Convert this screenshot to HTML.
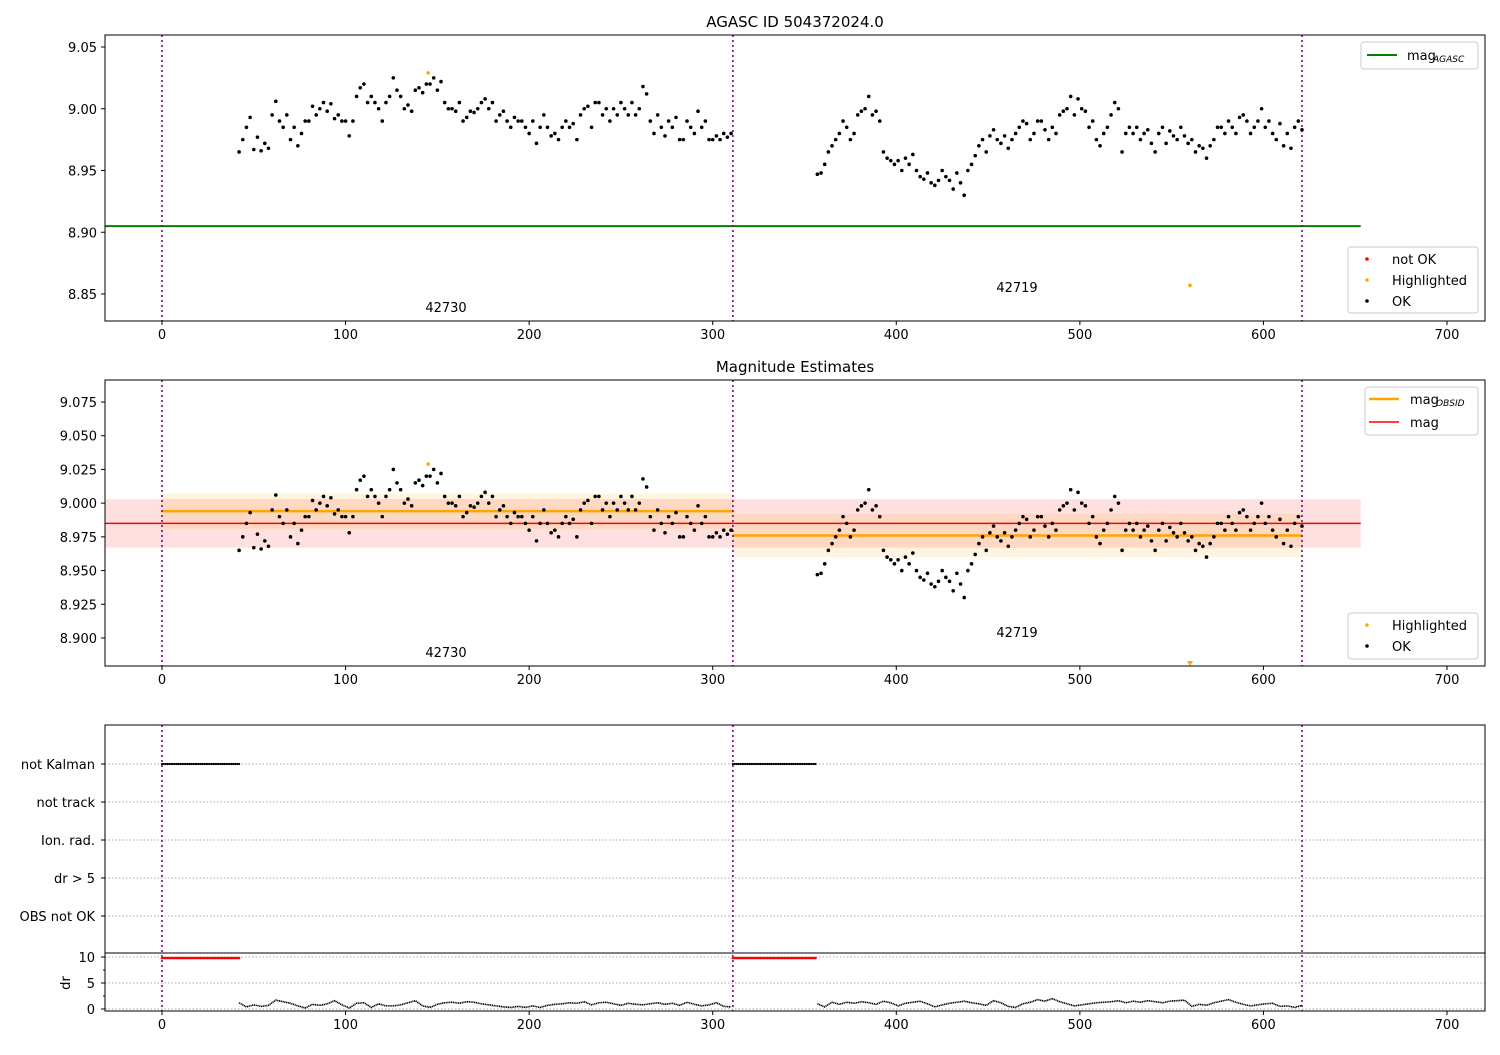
<!DOCTYPE html>
<html><head><meta charset="utf-8"><style>
body{margin:0;background:#fff}
svg text{font-family:"DejaVu Sans","Liberation Sans",sans-serif;fill:#000}
</style></head><body>
<svg id="c" width="1500" height="1050" xmlns="http://www.w3.org/2000/svg"></svg>
<script>
const obsidLabels=["42730","42719"];
const obsidStarts=[0,311];
const obsidEnds=[311,621];
const obsidMeans=[8.994,8.976];
const obsidStd=[0.013,0.016];
const magMean=8.985, magStd=0.018, magAgasc=8.905;
const t1Start=42, t1Step=2;
const mag1=[8.965,8.975,8.985,8.993,8.967,8.977,8.966,8.972,8.968,8.995,9.006,8.99,8.985,8.995,8.975,8.985,8.97,8.98,8.99,8.99,9.002,8.995,9.0,9.005,8.998,9.004,8.992,8.995,8.99,8.99,8.978,8.99,9.01,9.017,9.02,9.005,9.01,9.005,9.0,8.99,9.005,9.01,9.025,9.015,9.01,9.0,9.003,8.998,9.015,9.017,9.013,9.02,9.02,9.025,9.015,9.022,9.005,9.0,9.0,8.998,9.005,8.99,8.993,8.998,8.997,9.0,9.005,9.008,9.0,9.005,8.99,8.995,8.998,8.99,8.985,8.993,8.99,8.99,8.985,8.98,8.99,8.972,8.985,8.995,8.985,8.978,8.98,8.975,8.985,8.99,8.985,8.988,8.975,8.995,9.0,9.002,8.985,9.005,9.005,8.995,9.0,8.99,9.0,8.995,9.005,9.0,8.995,9.005,8.995,9.0,9.018,9.012,8.99,8.98,8.995,8.985,8.978,8.99,8.985,8.993,8.975,8.975,8.99,8.985,8.98,8.998,8.985,8.99,8.975,8.975,8.978,8.975,8.98,8.977,8.98];
const t2Start=357, t2Step=2;
const mag2=[8.947,8.948,8.955,8.965,8.97,8.975,8.98,8.99,8.985,8.975,8.98,8.995,8.998,9.0,9.01,8.995,8.998,8.99,8.965,8.96,8.958,8.955,8.958,8.95,8.96,8.955,8.963,8.95,8.945,8.943,8.948,8.94,8.938,8.942,8.95,8.945,8.942,8.935,8.948,8.94,8.93,8.95,8.955,8.962,8.97,8.975,8.965,8.978,8.983,8.975,8.972,8.978,8.968,8.975,8.98,8.985,8.99,8.988,8.975,8.98,8.99,8.99,8.983,8.975,8.985,8.98,8.995,8.998,9.0,9.01,8.995,9.008,9.0,8.998,8.985,8.99,8.975,8.97,8.98,8.985,8.995,9.005,9.0,8.965,8.98,8.985,8.98,8.985,8.975,8.98,8.983,8.972,8.965,8.98,8.985,8.972,8.982,8.978,8.975,8.985,8.978,8.972,8.975,8.965,8.97,8.968,8.96,8.97,8.975,8.985,8.985,8.98,8.99,8.985,8.98,8.993,8.995,8.99,8.98,8.985,8.99,9.0,8.985,8.99,8.98,8.975,8.988,8.97,8.98,8.968,8.985,8.99,8.983];
const hiT=[145,560], hiMag=[9.029,8.857];
const notKalmanStart=[0,311], notKalmanEnd=[42,356];
const drStep=4;
const dr1=[1.2,0.4,0.8,0.5,0.7,1.7,1.4,1.1,0.6,0.2,0.9,0.7,1.0,1.6,0.8,0.2,1.1,1.2,0.3,1.0,0.6,0.6,0.8,1.2,1.6,0.6,0.3,0.9,1.2,1.3,1.1,1.4,1.3,1.0,0.8,0.6,0.4,0.3,0.5,0.3,0.6,0.3,0.7,0.9,1.0,1.2,1.1,1.4,0.8,1.2,1.3,1.0,0.7,1.1,0.9,0.8,1.0,1.2,0.9,1.1,0.7,1.3,0.9,0.6,0.8,1.2,0.5,0.4];
const dr2=[1.0,0.4,1.3,0.9,1.3,1.1,1.4,1.2,0.9,1.5,1.2,0.6,1.1,1.3,1.5,1.0,0.4,0.8,1.1,1.3,1.5,1.2,1.0,0.7,1.6,1.2,0.5,0.3,1.0,1.3,1.8,1.5,2.0,1.4,1.0,0.6,0.8,1.0,1.2,1.3,1.4,1.6,1.2,1.5,1.3,1.6,1.4,1.2,1.5,1.6,1.7,0.5,0.9,0.7,1.2,1.5,1.8,1.3,0.9,0.6,0.8,1.0,1.1,0.5,0.6,0.3,0.7];
const xTicks=[0,100,200,300,400,500,600,700];
const y1Ticks=[8.85,8.90,8.95,9.00,9.05];
const y2Ticks=[8.900,8.925,8.950,8.975,9.000,9.025,9.050,9.075];
const flagLabels=["not Kalman","not track","Ion. rad.","dr > 5","OBS not OK"];
const drTicks=[0,5,10];

const svg=document.getElementById('c');
const NS="http://www.w3.org/2000/svg";
function mk(tag,attrs,parent,text){const e=document.createElementNS(NS,tag);for(const k in attrs)e.setAttribute(k,attrs[k]);if(text!==undefined)e.textContent=text;(parent||svg).appendChild(e);return e;}
const L=105,R=1485;
const X=t=>162+t*(1447-162)/700;
const Y1=m=>47+(9.05-m)*1235;
const Y2=m=>402+(9.075-m)*(638-402)/0.175;
const YD=d=>1009-d*5.2;
const yF=i=>764+i*38;

function frame(top,bot,name){
  const g=mk('g',{},svg);
  
  
  return g;
}
function border(top,bot,g){mk('rect',{x:L,y:top,width:R-L,height:bot-top,fill:'none',stroke:'#000','stroke-width':1},g);}
function xaxis(bot,g,labels){
  xTicks.forEach(t=>{mk('line',{x1:X(t),x2:X(t),y1:bot,y2:bot+4,stroke:'#000'},g);
    if(labels){const e=mk('text',{x:X(t),y:bot+18,'text-anchor':'middle','font-size':13},g,String(t));}});
}
function vlines(top,bot,g){obsidStarts.concat([621]).forEach(t=>mk('line',{x1:X(t),x2:X(t),y1:top,y2:bot,stroke:'#800080','stroke-width':1.6,'stroke-dasharray':'2,3'},g));}
function dots(ts,ms,Yf,g,color,r){ts.forEach((t,i)=>{const c=mk('circle',{cx:X(t),cy:Yf(ms[i]),r:r||1.8,fill:color},g);});}
function seriesT(start,step,arr){return arr.map((_,i)=>start+i*step);}
const T1=seriesT(t1Start,t1Step,mag1),T2=seriesT(t2Start,t2Step,mag2);

// Panel 1
let g1=frame(35,321,'agasc-panel');
mk('text',{x:795,y:27,'text-anchor':'middle','font-size':15},g1,'AGASC ID 504372024.0');
mk('line',{x1:L,x2:X(653),y1:Y1(magAgasc),y2:Y1(magAgasc),stroke:'#008000','stroke-width':2},g1);
vlines(35,321,g1);
dots(T1,mag1,Y1,g1,'#000');dots(T2,mag2,Y1,g1,'#000');
dots(hiT,hiMag,Y1,g1,'orange');
mk('text',{x:446,y:312,'text-anchor':'middle','font-size':13},g1,obsidLabels[0]);
mk('text',{x:1017,y:292,'text-anchor':'middle','font-size':13},g1,obsidLabels[1]);
y1Ticks.forEach(v=>{mk('line',{x1:L-4,x2:L,y1:Y1(v),y2:Y1(v),stroke:'#000'},g1);mk('text',{x:L-8,y:Y1(v)+5,'text-anchor':'end','font-size':13},g1,v.toFixed(2));});
border(35,321,g1);xaxis(321,g1,true);
// legends
let lg=mk('g',{},g1);
mk('rect',{x:1361,y:42,width:117,height:27,rx:3,fill:'#fff',stroke:'#ccc'},lg);
mk('line',{x1:1367,x2:1397,y1:55,y2:55,stroke:'#008000','stroke-width':2},lg);
mk('text',{x:1407,y:60,'font-size':13},lg,'mag');mk('text',{x:1433,y:62,'font-size':9,'font-style':'italic'},lg,'AGASC');
let lg2=mk('g',{},g1);
mk('rect',{x:1348,y:247,width:130,height:66,rx:3,fill:'#fff',stroke:'#ccc'},lg2);
[['not OK','red',259],['Highlighted','orange',280],['OK','#000',301]].forEach(a=>{mk('circle',{cx:1367,cy:a[2],r:1.8,fill:a[1]},lg2);mk('text',{x:1392,y:a[2]+5,'font-size':13},lg2,a[0]);});

// Panel 2
let g2=frame(380,666,'magnitude-panel');
mk('text',{x:795,y:372,'text-anchor':'middle','font-size':15},g2,'Magnitude Estimates');
mk('rect',{x:L,y:Y2(magMean+magStd),width:X(653)-L,height:Y2(magMean-magStd)-Y2(magMean+magStd),fill:'red','fill-opacity':0.12},g2);
obsidStarts.forEach((s,i)=>{mk('rect',{x:X(s),y:Y2(obsidMeans[i]+obsidStd[i]),width:X(obsidEnds[i])-X(s),height:Y2(obsidMeans[i]-obsidStd[i])-Y2(obsidMeans[i]+obsidStd[i]),fill:'orange','fill-opacity':0.12},g2);});
mk('line',{x1:L,x2:X(653),y1:Y2(magMean),y2:Y2(magMean),stroke:'red','stroke-width':1.6},g2);
obsidStarts.forEach((s,i)=>mk('line',{x1:X(s),x2:X(obsidEnds[i]),y1:Y2(obsidMeans[i]),y2:Y2(obsidMeans[i]),stroke:'orange','stroke-width':2.4},g2));
vlines(380,666,g2);
dots(T1,mag1,Y2,g2,'#000');dots(T2,mag2,Y2,g2,'#000');
dots([hiT[0]],[hiMag[0]],Y2,g2,'orange');
mk('polygon',{points:`${X(hiT[1])-3},661 ${X(hiT[1])+3},661 ${X(hiT[1])},666`,fill:'orange'},g2);
mk('text',{x:446,y:657,'text-anchor':'middle','font-size':13},g2,obsidLabels[0]);
mk('text',{x:1017,y:637,'text-anchor':'middle','font-size':13},g2,obsidLabels[1]);
y2Ticks.forEach(v=>{mk('line',{x1:L-4,x2:L,y1:Y2(v),y2:Y2(v),stroke:'#000'},g2);mk('text',{x:L-8,y:Y2(v)+5,'text-anchor':'end','font-size':13},g2,v.toFixed(3));});
border(380,666,g2);xaxis(666,g2,true);
let lg3=mk('g',{},g2);
mk('rect',{x:1365,y:387,width:113,height:48,rx:3,fill:'#fff',stroke:'#ccc'},lg3);
mk('line',{x1:1369,x2:1399,y1:399,y2:399,stroke:'orange','stroke-width':2.4},lg3);
mk('text',{x:1410,y:404,'font-size':13},lg3,'mag');mk('text',{x:1436,y:406,'font-size':9,'font-style':'italic'},lg3,'OBSID');
mk('line',{x1:1369,x2:1399,y1:422,y2:422,stroke:'red','stroke-width':1.6},lg3);
mk('text',{x:1410,y:427,'font-size':13},lg3,'mag');
let lg4=mk('g',{},g2);
mk('rect',{x:1348,y:613,width:130,height:46,rx:3,fill:'#fff',stroke:'#ccc'},lg4);
[['Highlighted','orange',625],['OK','#000',646]].forEach(a=>{mk('circle',{cx:1367,cy:a[2],r:1.8,fill:a[1]},lg4);mk('text',{x:1392,y:a[2]+5,'font-size':13},lg4,a[0]);});

// Panel 3 flags
let g3=frame(725,953,'flags-panel');
flagLabels.forEach((f,i)=>{mk('line',{x1:L,x2:R,y1:yF(i),y2:yF(i),stroke:'#aaa','stroke-dasharray':'1.5,2'},g3);mk('line',{x1:L-4,x2:L,y1:yF(i),y2:yF(i),stroke:'#000'},g3);mk('text',{x:L-10,y:yF(i)+5,'text-anchor':'end','font-size':13},g3,f);});
vlines(725,1011,g3);
notKalmanStart.forEach((s,i)=>{for(let t=s;t<=notKalmanEnd[i];t+=1)mk('circle',{cx:X(t),cy:yF(0),r:1.1,fill:'#000'},g3);});
mk('rect',{x:L,y:725,width:R-L,height:228,fill:'none',stroke:'#000'},g3);
// dr panel
let g4=frame(953,1011,'dr-panel');
drTicks.forEach(v=>{mk('line',{x1:L,x2:R,y1:YD(v),y2:YD(v),stroke:'#aaa','stroke-dasharray':'1.5,2'},g4);mk('line',{x1:L-4,x2:L,y1:YD(v),y2:YD(v),stroke:'#000'},g4);mk('text',{x:L-10,y:YD(v)+5,'text-anchor':'end','font-size':13},g4,String(v));});
[2.5,7.5].forEach(v=>mk('line',{x1:L-2,x2:L,y1:YD(v),y2:YD(v),stroke:'#000'},g4));
mk('text',{x:70,y:983,'text-anchor':'middle','font-size':13,transform:'rotate(-90 70 983)'},g4,'dr');
notKalmanStart.forEach((s,i)=>{for(let t=s;t<=notKalmanEnd[i];t+=1)mk('circle',{cx:X(t),cy:YD(9.8),r:1.3,fill:'red'},g4);});
[[t1Start,dr1],[t2Start,dr2]].forEach(([s,arr])=>{const pts=arr.map((d,i)=>X(s+i*drStep)+','+YD(d)).join(' ');mk('polyline',{points:pts,fill:'none',stroke:'#000','stroke-width':1.6,'stroke-dasharray':'1.2,0.6'},g4);});
mk('rect',{x:L,y:953,width:R-L,height:58,fill:'none',stroke:'#000'},g4);
xaxis(1011,g4,false);
xTicks.forEach(t=>{const e=mk('text',{x:X(t),y:1029,'text-anchor':'middle','font-size':13},g4,String(t));});
</script>
</body></html>
